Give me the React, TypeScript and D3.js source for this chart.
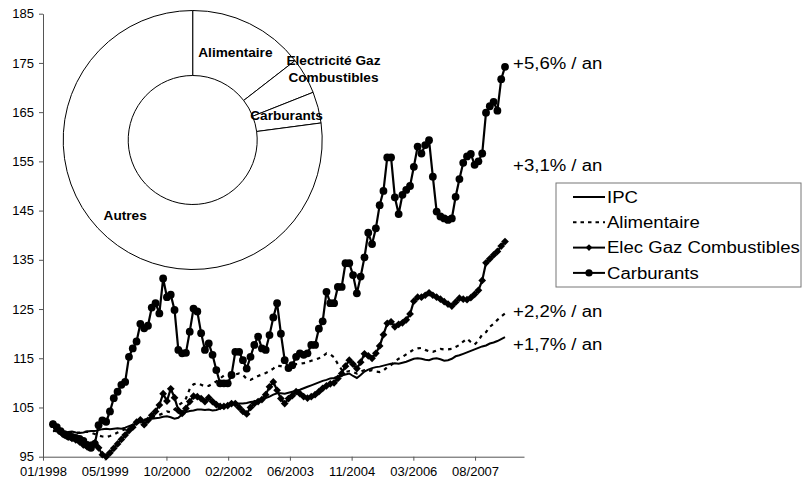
import { useEffect, useRef } from 'react';
import * as d3 from 'd3';

// x axis tick labels (one every ~16 months)
const xTickLabels = ['01/1998', '05/1999', '10/2000', '02/2002', '06/2003', '11/2004', '03/2006', '08/2007'];
const yTicks = [95, 105, 115, 125, 135, 145, 155, 165, 175, 185];

// monthly indices, first point ~03/1998
const ipc = [
  100.3, 100.1, 100.0, 99.9, 100.0, 100.1, 99.9, 99.8, 99.9, 100.1,
  100.2, 100.2, 100.4, 100.6, 100.7, 100.6, 100.7, 100.8, 100.7, 100.9,
  101.2, 101.5, 101.8, 102.1, 102.3, 102.5, 102.7, 102.8, 102.9, 103.1,
  103.2, 103.0, 102.7, 102.9, 103.6, 104.1, 104.3, 104.4, 104.6, 104.6,
  104.5, 104.6, 104.4, 104.5, 104.8, 105.1, 105.3, 105.6, 105.7, 105.8,
  105.8, 105.9, 106.1, 106.2, 106.4, 106.6, 106.9, 107.2, 107.6, 107.9,
  107.9, 107.8, 108.0, 108.2, 108.4, 108.6, 108.9, 109.2, 109.5, 109.8,
  110.1, 110.4, 110.6, 110.9, 111.0, 111.3, 111.5, 111.7, 111.9, 111.4,
  111.0, 111.6, 112.3, 112.7, 113.0, 113.2, 113.3, 113.5, 113.7, 113.9,
  114.0, 113.9, 114.1, 114.3, 114.6, 114.9, 115.0, 114.9, 114.7, 114.6,
  114.9, 115.0, 114.8, 114.5, 114.6, 114.9, 115.4, 115.6, 115.9, 116.2,
  116.5, 116.8, 117.1, 117.4, 117.6, 118.0, 118.2, 118.5, 118.9, 119.3,
];

const alimentaire = [
  100.2, 100.3, 100.2, 100.1, 100.0, 99.9, 99.8, 99.9, 100.0, 100.1,
  99.9, 99.6, 99.3, 99.1, 99.0, 99.2, 99.5, 99.9, 100.3, 100.6,
  101.0, 101.4, 101.8, 102.2, 102.5, 102.7, 103.0, 103.2, 103.5, 103.8,
  104.2, 104.0, 104.6, 105.4, 106.0, 106.8, 108.8, 109.7, 109.9, 109.6,
  109.3, 109.4, 109.8, 110.3, 110.9, 111.5, 111.6, 111.6, 111.7, 111.9,
  111.6, 110.8, 110.6, 111.0, 111.4, 111.7, 112.0, 112.4, 112.9, 113.5,
  113.4, 113.2, 113.3, 113.6, 113.8, 113.9, 114.0, 114.2, 114.5, 114.7,
  115.0, 115.4, 116.0, 115.8, 115.2, 113.8, 112.7, 112.2, 112.4, 112.2,
  111.9, 112.3, 112.6, 112.4, 112.6, 112.3, 112.2, 112.5, 113.2, 113.6,
  114.3, 114.9, 115.3, 115.8, 116.3, 116.8, 117.0, 117.1, 116.7, 116.4,
  116.3, 116.6, 116.9, 116.8, 116.8, 116.9, 117.3, 117.7, 118.4, 119.0,
  118.3, 117.8, 118.6, 119.8, 120.3, 121.4, 122.0, 122.8, 123.5, 124.1,
];

const elecGaz = [
  101.6, 100.8, 100.0, 99.4, 99.0, 98.7, 98.4, 98.0, 97.4, 97.0,
  97.4, 97.8, 96.8, 95.4, 95.0, 95.8, 96.7, 97.6, 98.5, 99.4,
  100.3, 101.0, 102.0, 102.5, 101.5, 102.4, 103.4, 104.2, 105.5, 107.8,
  106.3, 108.8, 107.0, 104.4, 103.8, 104.8, 106.2, 107.3, 107.2, 106.8,
  106.2, 107.0, 106.2, 105.6, 105.2, 105.2, 105.4, 105.8, 105.8, 105.0,
  104.2, 103.7, 105.0, 105.8, 106.2, 106.6, 107.6, 109.2, 110.2, 108.5,
  106.8, 105.8, 106.8, 107.4, 108.2, 107.8, 107.2, 106.9, 107.2, 107.6,
  108.2, 108.9, 109.4, 109.8, 110.0, 110.9, 111.9, 113.4, 114.6, 113.8,
  112.9, 114.2, 115.9, 115.5, 115.0, 116.0, 117.5, 119.8, 122.1, 122.4,
  121.4, 121.9, 122.2, 122.8, 124.0, 126.6, 127.4, 127.4, 127.8, 128.3,
  127.8, 127.4, 127.0, 126.5, 126.0, 125.6, 126.4, 127.2, 127.0, 126.9,
  127.3, 128.0, 128.8, 130.8, 134.4, 135.2, 136.0, 136.7, 137.8, 138.7,
];

const carburants = [
  101.6, 101.0, 100.2, 99.6, 99.2, 99.0, 98.8, 98.6, 98.2, 97.4,
  96.8, 97.6, 101.4, 102.4, 102.1, 104.2, 106.9, 108.2, 109.6, 110.2,
  115.3, 117.0, 118.4, 122.0, 121.1, 121.6, 125.3, 126.2, 124.1, 131.2,
  127.4, 127.9, 124.8, 116.7, 116.0, 116.1, 120.4, 125.1, 124.5, 120.1,
  116.7, 118.0, 115.7, 112.6, 109.9, 109.9, 109.9, 111.6, 116.3, 116.3,
  114.6, 112.9, 115.3, 117.7, 119.4, 117.0, 116.7, 119.7, 123.3, 126.2,
  120.0, 114.6, 113.0, 113.6, 115.3, 116.0, 115.7, 116.0, 117.7, 117.7,
  121.0, 122.5, 128.5, 126.2, 126.2, 129.5, 129.5, 134.3, 134.3, 131.9,
  128.2, 131.6, 135.5, 140.5, 138.2, 141.4, 146.1, 149.0, 155.8, 155.8,
  147.7, 144.3, 148.2, 149.2, 150.0, 153.9, 158.0, 156.6, 158.3, 159.3,
  151.9, 144.8, 143.8, 143.4, 143.1, 143.4, 147.8, 151.4, 154.7, 156.0,
  156.5, 154.3, 155.0, 156.6, 164.9, 166.2, 167.1, 165.3, 171.7, 174.2,
];

// annual growth annotations and the index level they sit at
const growthLabels = ['+5,6% / an', '+3,1% / an', '+2,2% / an', '+1,7% / an'];
const growthLevels = [175.0, 154.1, 124.5, 117.8];

// weights in the CPI (donut)
const pieNames = ['Alimentaire', 'Electricité Gaz|Combustibles', 'Carburants', 'Autres'];
const pieShares = [14.5, 4.5, 3.9, 77.1];

const legendLabels = ['IPC', 'Alimentaire', 'Elec Gaz Combustibles', 'Carburants'];

export default function App() {
  const ref = useRef<SVGSVGElement>(null);

  useEffect(() => {
    if (!ref.current) return;
    const svg = d3.select(ref.current);
    svg.selectAll('*').remove();

    const font = '"Liberation Sans", Arial, sans-serif';
    const stretch = 1.16;

    // first point sits a bit right of the 01/1998 tick
    const tickStart = -2.63;
    const tickStep = 16.25;
    const x = d3.scaleLinear().domain([tickStart, 124]).range([43, 524]);
    const y = d3.scaleLinear().domain([95, 185]).range([456.7, 13.7]);

    // y axis
    const gy = svg.append('g')
      .attr('transform', `translate(${x(tickStart)},0)`)
      .call(d3.axisLeft(y).tickValues(yTicks).tickSize(4).tickSizeOuter(0).tickPadding(5).tickFormat(d3.format('d')));
    gy.selectAll('text').style('font-family', font).style('font-size', '13px').attr('fill', '#000');
    gy.selectAll('line, path').attr('stroke', '#555');

    // x axis
    const gx = svg.append('g')
      .attr('transform', `translate(0,${y(95)})`)
      .call(d3.axisBottom(x)
        .tickValues(xTickLabels.map((_, k) => tickStart + tickStep * k))
        .tickSize(4).tickSizeOuter(0).tickPadding(6)
        .tickFormat((_, k) => xTickLabels[k]));
    gx.selectAll('text').style('font-family', font).style('font-size', '13px').attr('fill', '#000');
    gx.selectAll('line, path').attr('stroke', '#555');

    const line = d3.line<number>().x((_, i) => x(i)).y(d => y(d));

    // IPC
    svg.append('path').datum(ipc)
      .attr('fill', 'none').attr('stroke', '#000').attr('stroke-width', 2)
      .attr('d', line);

    // Alimentaire dashed
    svg.append('path').datum(alimentaire)
      .attr('fill', 'none').attr('stroke', '#000').attr('stroke-width', 2.2)
      .attr('stroke-dasharray', '3.5,4.5')
      .attr('d', line);

    // Elec Gaz Combustibles
    svg.append('path').datum(elecGaz)
      .attr('fill', 'none').attr('stroke', '#000').attr('stroke-width', 2.2)
      .attr('d', line);
    const diamond = d3.symbol().type(d3.symbolSquare).size(30);
    svg.append('g').selectAll('path').data(elecGaz).enter().append('path')
      .attr('d', diamond)
      .attr('transform', (d, i) => `translate(${x(i)},${y(d)}) rotate(45)`)
      .attr('fill', '#000');

    // Carburants
    svg.append('path').datum(carburants)
      .attr('fill', 'none').attr('stroke', '#000').attr('stroke-width', 2.2)
      .attr('d', line);
    svg.append('g').selectAll('circle').data(carburants).enter().append('circle')
      .attr('cx', (_, i) => x(i))
      .attr('cy', d => y(d))
      .attr('r', 3.9)
      .attr('fill', '#000');

    // growth annotations
    growthLabels.forEach((t, k) => {
      svg.append('text')
        .attr('transform', `translate(${x(123.5) - 9},${y(growthLevels[k])}) scale(${stretch},1)`)
        .attr('dy', '0.35em')
        .style('font-family', font).style('font-size', '16px')
        .text(t);
    });

    // donut
    const cx = 192.7, cy = 140;
    const rIn = 64.5, rOut = 129.5;
    const pie = d3.pie<number>().sort(null).value(d => d);
    const arc = d3.arc<d3.PieArcDatum<number>>().innerRadius(rIn).outerRadius(rOut);
    const arcs = pie(pieShares);
    const gp = svg.append('g').attr('transform', `translate(${cx},${cy})`);
    gp.selectAll('path').data(arcs).enter().append('path')
      .attr('d', arc)
      .attr('fill', '#fff')
      .attr('stroke', '#000')
      .attr('stroke-width', 1);

    // label placement: [angle in degrees, radius], null = slice centroid
    const labelPolar: ([number, number] | null)[] = [null, [63.2, 157.7], null, [222, 101]];
    arcs.forEach((a, k) => {
      const p = labelPolar[k];
      const [lx, ly] = p ? d3.pointRadial((p[0] * Math.PI) / 180, p[1]) : arc.centroid(a);
      const lines = pieNames[k].split('|');
      const t = gp.append('text')
        .attr('transform', `translate(${lx},${ly}) scale(1.05,1)`)
        .attr('text-anchor', 'middle')
        .style('font-family', font).style('font-size', '13px').style('font-weight', 'bold');
      lines.forEach((s, j) => {
        t.append('tspan')
          .attr('x', 0)
          .attr('y', (j - (lines.length - 1) / 2) * 16.6)
          .attr('dy', '0.35em')
          .text(s);
      });
    });

    // legend
    const lg = svg.append('g').attr('transform', 'translate(556,183)');
    lg.append('rect')
      .attr('width', 245).attr('height', 104)
      .attr('fill', '#fff').attr('stroke', '#777').attr('stroke-width', 1);
    legendLabels.forEach((name, k) => {
      const ry = 14 + k * 25.3;
      const row = lg.append('g').attr('transform', `translate(0,${ry})`);
      const ln = row.append('line')
        .attr('x1', 17).attr('x2', 49).attr('y1', 0).attr('y2', 0)
        .attr('stroke', '#000').attr('stroke-width', 2);
      if (k === 1) ln.attr('stroke-dasharray', '3.5,4');
      if (k === 2) {
        row.append('path').attr('d', d3.symbol().type(d3.symbolSquare).size(22)())
          .attr('transform', 'translate(33,0) rotate(45)').attr('fill', '#000');
      }
      if (k === 3) {
        row.append('circle').attr('cx', 33).attr('cy', 0).attr('r', 3.6).attr('fill', '#000');
      }
      row.append('text')
        .attr('transform', `translate(51,0) scale(${stretch},1)`)
        .attr('dy', '0.35em')
        .style('font-family', font).style('font-size', '16px')
        .text(name);
    });
  }, []);

  return (
    <svg
      ref={ref}
      width={802}
      height={485}
      style={{ position: 'absolute', left: 0, top: 0, background: '#fff' }}
    />
  );
}
